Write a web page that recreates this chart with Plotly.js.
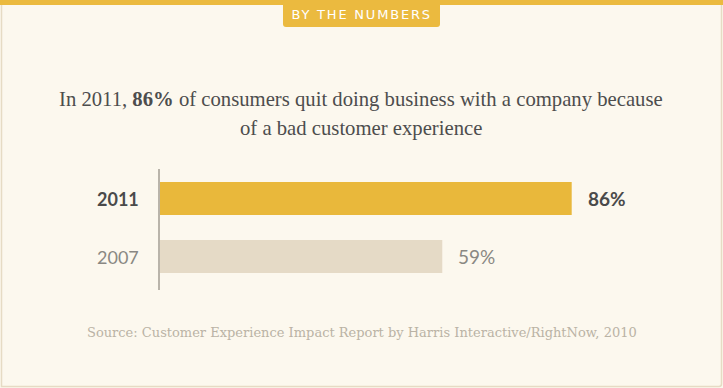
<!DOCTYPE html>
<html>
<head>
<meta charset="utf-8">
<script src="https://cdn.plot.ly/plotly-3.0.1.min.js"></script>
<style>
html,body{margin:0;padding:0;background:#fcf8ee;}
#chart{width:723px;height:388px;}
</style>
</head>
<body>
<div id="chart"></div>
<script>
var years = ["2007", "2011"];
var percents = [59, 86];
var barColors = ["#e5dac6", "#e9b83b"];
var yearLabelColors = ["#8a8883", "#4a4a4a"];
var yearLabelWeights = ["normal", "bold"];
var badgeText = "BY THE NUMBERS";
var titleLines = ["In 2011, <b>86%</b> of consumers quit doing business with a company because", "of a bad customer experience"];
var sourceText = "Source: Customer Experience Impact Report by Harris Interactive/RightNow, 2010";

var W = 723, H = 388;
var pxPerUnit = 4.793;
var x0 = 159.5, xEnd = 700;
var yTop = 169, yBot = 290;

var trace = {
  type: "bar",
  orientation: "h",
  y: years,
  x: percents,
  marker: {color: barColors, line: {width: 0}},
  width: 0.57,
  hoverinfo: "none"
};

var annotations = [];
years.forEach(function(yr, i){
  annotations.push({
    xref: "paper", yref: "y", x: 141/W, y: i,
    xanchor: "right", yanchor: "middle",
    text: yr, showarrow: false,
    font: {family: "Lato, 'Open Sans', sans-serif", size: 18, color: yearLabelColors[i], weight: yearLabelWeights[i]}
  });
  annotations.push({
    xref: "x", yref: "y", x: percents[i], y: i,
    xanchor: "left", yanchor: "middle", xshift: 14,
    text: percents[i] + "%", showarrow: false,
    font: {family: "Lato, 'Open Sans', sans-serif", size: 19, color: yearLabelColors[i], weight: yearLabelWeights[i]}
  });
});
var titleYs = [100, 129];
titleLines.forEach(function(t, i){
  annotations.push({
    xref: "paper", yref: "paper", x: 361/W, y: 1 - titleYs[i]/H,
    xanchor: "center", yanchor: "middle",
    text: t, showarrow: false,
    font: {family: "'Liberation Serif', serif", size: 20.7, color: "#4d4d4d"}
  });
});
annotations.push({
  xref: "paper", yref: "paper", x: 361.5/W, y: 1 - 15/H,
  xanchor: "center", yanchor: "middle",
  text: badgeText, showarrow: false,
  font: {family: "'DejaVu Sans', sans-serif", size: 13, color: "#ffffff"}
});
annotations.push({
  xref: "paper", yref: "paper", x: 361.5/W, y: 1 - 332/H,
  xanchor: "center", yanchor: "middle",
  text: sourceText, showarrow: false,
  font: {family: "'DejaVu Serif', serif", size: 13, color: "#bab3a5"}
});

var shapes = [
  {type: "path", xref: "paper", yref: "paper",
   path: "M 1.5 386.5 L 1.5 4 L 721.5 4 L 721.5 384 Q 721.5 386.5 719 386.5 Z",
   line: {color: "#e6dbc4", width: 1.5}, fillcolor: "rgba(0,0,0,0)", layer: "below"},
  {type: "rect", xref: "paper", yref: "paper",
   x0: 0, x1: 1, y0: 1 - 5/H, y1: 1,
   fillcolor: "#ebba3f", line: {width: 0}, layer: "below"},
  {type: "path", xref: "paper", yref: "paper",
   path: "M 283 0 L 440 0 L 440 24 Q 440 27 437 27 L 286 27 Q 283 27 283 24 Z",
   fillcolor: "#ebba3f", line: {width: 0}, layer: "below"}
];
shapes.forEach(function(s){
  if (s.type === "path") {
    s.path = s.path.replace(/(-?\d+(\.\d+)?) (-?\d+(\.\d+)?)/g, function(m, a, b, c){
      return (parseFloat(a)/W).toFixed(5) + " " + (1 - parseFloat(c)/H).toFixed(5);
    });
  }
});

var layout = {
  width: W, height: H,
  margin: {l: 0, r: 0, t: 0, b: 0, pad: 0},
  paper_bgcolor: "#fcf8ee",
  plot_bgcolor: "rgba(0,0,0,0)",
  showlegend: false,
  xaxis: {
    domain: [x0/W, xEnd/W],
    range: [0, (xEnd - x0)/pxPerUnit],
    showgrid: false, zeroline: false, showline: false,
    showticklabels: false, ticks: "", fixedrange: true
  },
  yaxis: {
    type: "category",
    domain: [1 - yBot/H, 1 - yTop/H],
    range: [-33.5/58, 1 + 29.5/58],
    showgrid: false, zeroline: false,
    showline: true, linecolor: "#b9b4aa", linewidth: 2,
    showticklabels: false, ticks: "", fixedrange: true
  },
  annotations: annotations,
  shapes: shapes
};

Plotly.newPlot("chart", [trace], layout, {displayModeBar: false, staticPlot: true}).then(function(gd){
  var nodes = gd.querySelectorAll(".annotation-text");
  nodes.forEach(function(n){
    if (n.textContent === badgeText) {
      n.style.letterSpacing = "1.8px";
    }
  });
});
</script>
</body>
</html>
